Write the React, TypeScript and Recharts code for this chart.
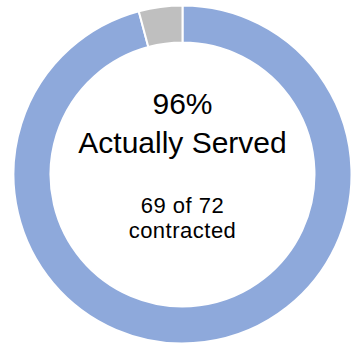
import React from 'react';
import { PieChart, Pie, Cell, Label } from 'recharts';

const categories = ['Actually Served', 'Not Served'];
const values = [69, 3];
const colors = ['#8EA9DB', '#BFBFBF'];
const headline = '96%';
const caption = 'Actually Served';
const subLines = ['69 of 72', 'contracted'];

const data = categories.map((name, i) => ({ name, value: values[i] }));

const font = '"Liberation Sans", Arial, sans-serif';
const CX = 182.5;
const CY = 174.5;

const CenterText = () => (
    <g fontFamily={font} fill='#000' textAnchor='middle'>
        <text x={CX} y={CY - 61} fontSize={30}>{headline}</text>
        <text x={CX} y={CY - 22} fontSize={30}>{caption}</text>
        <text x={CX} y={CY + 38} fontSize={22} letterSpacing={0.5}>{subLines[0]}</text>
        <text x={CX} y={CY + 63} fontSize={22} letterSpacing={0.5}>{subLines[1]}</text>
    </g>
);

const App = () => {
    return (
        <div style={{ position: 'absolute', left: 0, top: 0, width: 354, height: 345, background: '#fff' }}>
            <PieChart width={354} height={345} margin={{ top: 0, right: 0, bottom: 0, left: 0 }}>
                <Pie
                    data={data}
                    dataKey='value'
                    nameKey='name'
                    cx={CX}
                    cy={CY}
                    innerRadius={132}
                    outerRadius={169}
                    startAngle={90}
                    endAngle={-270}
                    stroke='#fff'
                    strokeWidth={2}
                    isAnimationActive={false}
                >
                    {data.map((d, i) => (
                        <Cell key={d.name} fill={colors[i]} />
                    ))}
                    <Label position='center' content={() => <CenterText />} />
                </Pie>
            </PieChart>
        </div>
    );
};

export default App;
